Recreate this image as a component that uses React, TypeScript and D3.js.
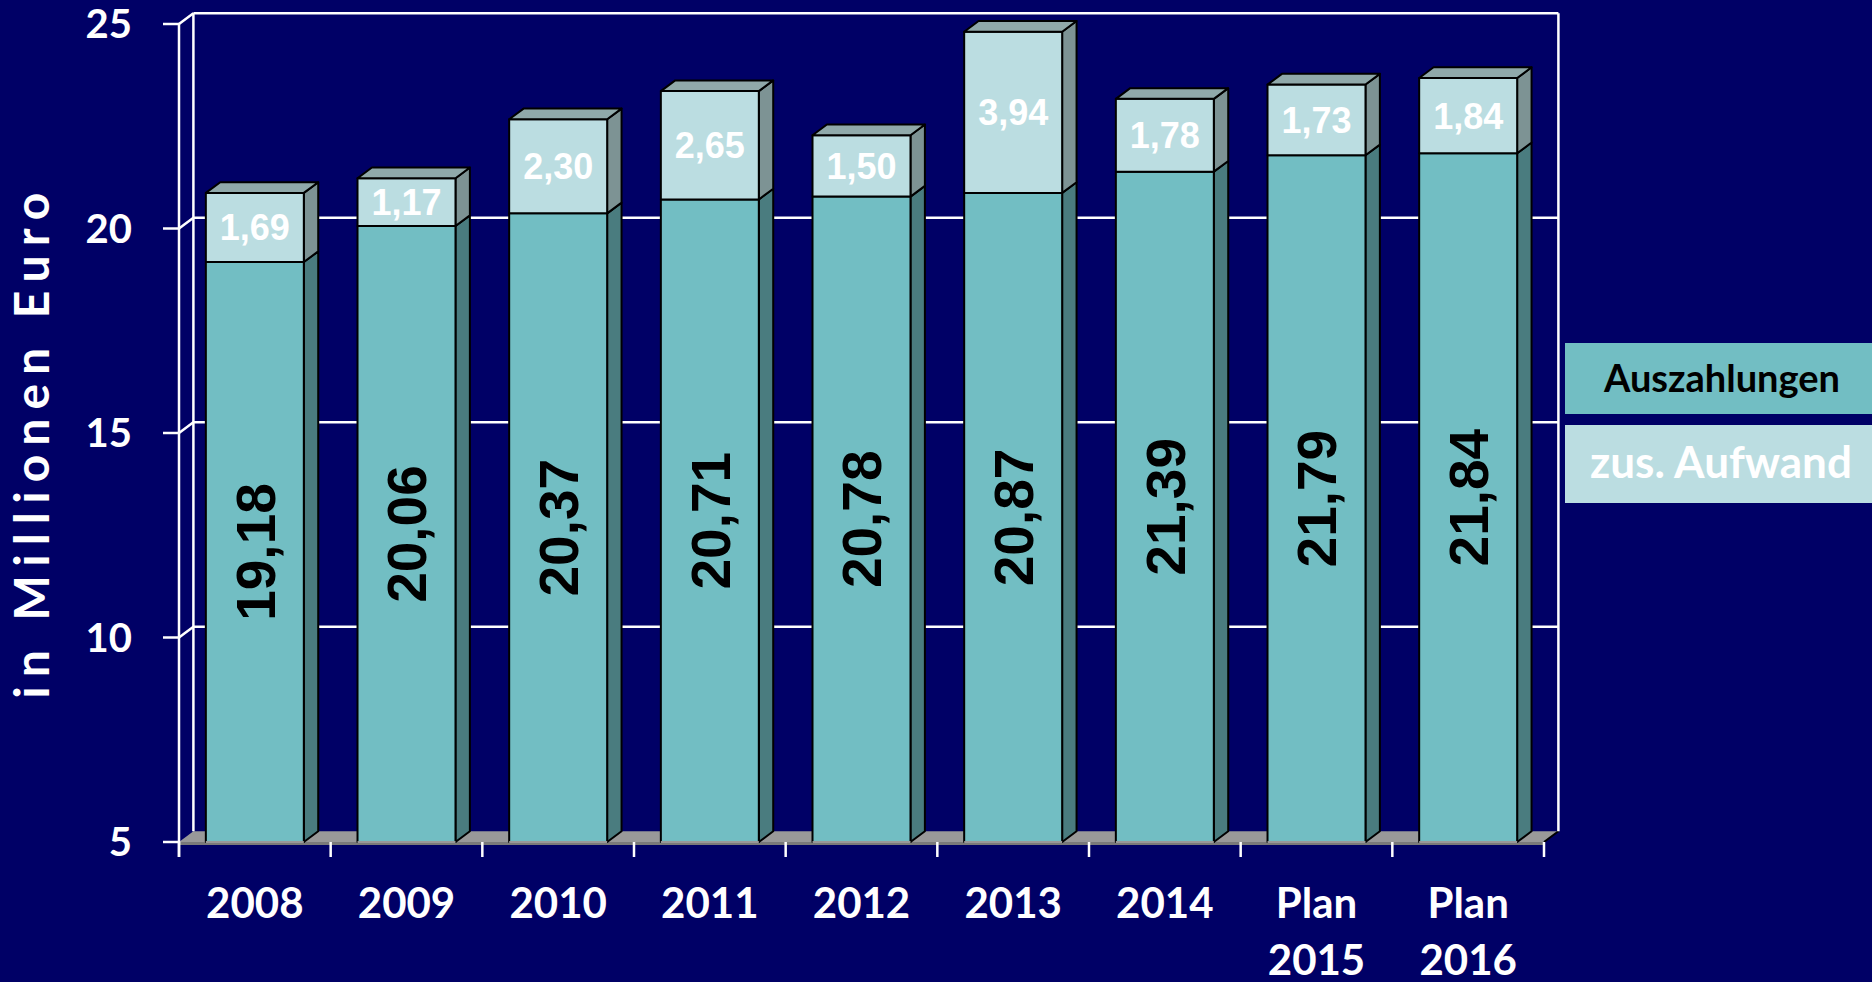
import React from "react";
import * as d3 from "d3";

const categories = ["2008", "2009", "2010", "2011", "2012", "2013", "2014", "Plan 2015", "Plan 2016"];
const auszahlungen = [19.18, 20.06, 20.37, 20.71, 20.78, 20.87, 21.39, 21.79, 21.84];
const zusAufwand = [1.69, 1.17, 2.3, 2.65, 1.5, 3.94, 1.78, 1.73, 1.84];
const yTicks = [5, 10, 15, 20, 25];
const legendLabels = ["Auszahlungen", "zus. Aufwand"];

const W = 1872;
const H = 982;
const DX = 14.4;
const DY = -10.7;

const C_LOW_FRONT = "#72BEC3";
const C_LOW_SIDE = "#4A7C7F";
const C_UP_FRONT = "#BBDDE1";
const C_UP_SIDE = "#7D9394";
const C_TOP = "#90A9AA";
const BG = "#000066";

const fmt = (v: number) => v.toFixed(2).replace(".", ",");

export default function App() {
  const x = d3
    .scaleBand<string>()
    .domain(categories)
    .range([179, 1544])
    .paddingInner(0.354)
    .paddingOuter(0.177);
  const y = d3.scaleLinear().domain([5, 25]).range([842, 24]);
  const step = x.step();
  const x0 = 179;
  const x1 = 1544;
  const yFloor = y(5);
  const yTop = y(25);

  const pts = (p: [number, number][]) => p.map((q) => q.join(",")).join(" ");

  return (
    <svg
      width={W}
      height={H}
      style={{ position: "absolute", left: 0, top: 0, display: "block", background: BG }}
    >
      <rect x={0} y={0} width={W} height={H} fill={BG} />
      {/* floor */}
      <polygon
        points={pts([
          [x0, yFloor],
          [x0 + DX, yFloor + DY],
          [x1 + DX, yFloor + DY],
          [x1, yFloor],
        ])}
        fill="#999999"
      />
      <rect x={x0} y={yFloor} width={x1 - x0} height={3} fill="#7a7a7a" />
      <line x1={x1} y1={yFloor} x2={x1 + DX} y2={yFloor + DY} stroke="#000" strokeWidth={2} />
      {/* walls & gridlines */}
      {yTicks
        .filter((v) => v > 5)
        .map((v) => (
          <g key={"g" + v}>
            <line x1={x0} y1={y(v)} x2={x0 + DX} y2={y(v) + DY} stroke="#fff" strokeWidth={2.5} />
            <line x1={x0 + DX} y1={y(v) + DY} x2={x1 + DX} y2={y(v) + DY} stroke="#fff" strokeWidth={2.5} />
          </g>
        ))}
      <line x1={x0 + DX} y1={yTop + DY} x2={x0 + DX} y2={yFloor + DY} stroke="#fff" strokeWidth={2.5} />
      <line x1={x1 + DX} y1={yTop + DY} x2={x1 + DX} y2={yFloor + DY} stroke="#fff" strokeWidth={2.5} />
      <line x1={x0} y1={yTop} x2={x0} y2={yFloor + 15} stroke="#fff" strokeWidth={2.5} />
      {/* y ticks */}
      {yTicks.map((v) => (
        <g key={"t" + v}>
          <line x1={x0 - 16} y1={y(v)} x2={x0} y2={y(v)} stroke="#fff" strokeWidth={2.5} />
          <text
            x={132}
            y={y(v)}
            dy="0.36em"
            textAnchor="end"
            fill="#fff"
            fontFamily="Lato"
            fontWeight="bold"
            fontSize={40}
          >
            {v}
          </text>
        </g>
      ))}
      {/* x ticks */}
      {d3.range(categories.length + 1).map((i) => (
        <line
          key={"xt" + i}
          x1={x0 + i * step}
          y1={yFloor}
          x2={x0 + i * step}
          y2={yFloor + 15}
          stroke="#fff"
          strokeWidth={2.5}
        />
      ))}
      {/* bars */}
      {categories.map((c, i) => {
        const bx = x(c)!;
        const bw = x.bandwidth();
        const bRight = bx + bw;
        const yLow = y(auszahlungen[i]);
        const yUp = y(auszahlungen[i] + zusAufwand[i]);
        const st = { stroke: "#000", strokeWidth: 2, strokeLinejoin: "round" as const };
        return (
          <g key={"b" + c}>
            <polygon
              points={pts([
                [bRight, yFloor],
                [bRight + DX, yFloor + DY],
                [bRight + DX, yLow + DY],
                [bRight, yLow],
              ])}
              fill={C_LOW_SIDE}
              {...st}
            />
            <rect x={bx} y={yLow} width={bw} height={yFloor - yLow} fill={C_LOW_FRONT} {...st} />
            <polygon
              points={pts([
                [bRight, yLow],
                [bRight + DX, yLow + DY],
                [bRight + DX, yUp + DY],
                [bRight, yUp],
              ])}
              fill={C_UP_SIDE}
              {...st}
            />
            <rect x={bx} y={yUp} width={bw} height={yLow - yUp} fill={C_UP_FRONT} {...st} />
            <polygon
              points={pts([
                [bx, yUp],
                [bx + DX, yUp + DY],
                [bRight + DX, yUp + DY],
                [bRight, yUp],
              ])}
              fill={C_TOP}
              {...st}
            />
            <line x1={bx} y1={yFloor} x2={bRight} y2={yFloor} stroke="#999" strokeWidth={2} />
            <text
              x={bx + bw / 2}
              y={(yLow + yUp) / 2}
              dy="0.36em"
              textAnchor="middle"
              fill="#fff"
              fontFamily="Liberation Sans"
              fontWeight="bold"
              fontSize={36}
            >
              {fmt(zusAufwand[i])}
            </text>
            <text
              transform={`translate(${bx + bw / 2},${(yLow + yFloor) / 2}) rotate(-90)`}
              dy="0.36em"
              textAnchor="middle"
              fill="#000"
              fontFamily="Liberation Sans"
              fontWeight="bold"
              fontSize={55}
            >
              {fmt(auszahlungen[i])}
            </text>
            {c.split(" ").map((part, k) => (
              <text
                key={k}
                x={bx + bw / 2}
                y={918 + k * 57}
                textAnchor="middle"
                fill="#fff"
                fontFamily="Lato"
                fontWeight="bold"
                fontSize={42}
              >
                {part}
              </text>
            ))}
          </g>
        );
      })}
      {/* y title */}
      <text
        transform="translate(32,441) rotate(-90)"
        dy="0.36em"
        textAnchor="middle"
        fill="#fff"
        fontFamily="Lato"
        fontWeight="bold"
        fontSize={48}
        letterSpacing={9}
      >
        in Millionen Euro
      </text>
      {/* legend */}
      <rect x={1565} y={343} width={W - 1565} height={71} fill={C_LOW_FRONT} />
      <text x={1722} y={392} textAnchor="middle" fill="#000" fontFamily="Lato" fontWeight="bold" fontSize={38}>
        {legendLabels[0]}
      </text>
      <rect x={1565} y={425} width={W - 1565} height={78} fill={C_UP_FRONT} />
      <text x={1721} y={478} textAnchor="middle" fill="#fff" fontFamily="Lato" fontWeight="bold" fontSize={44}>
        {legendLabels[1]}
      </text>
    </svg>
  );
}
